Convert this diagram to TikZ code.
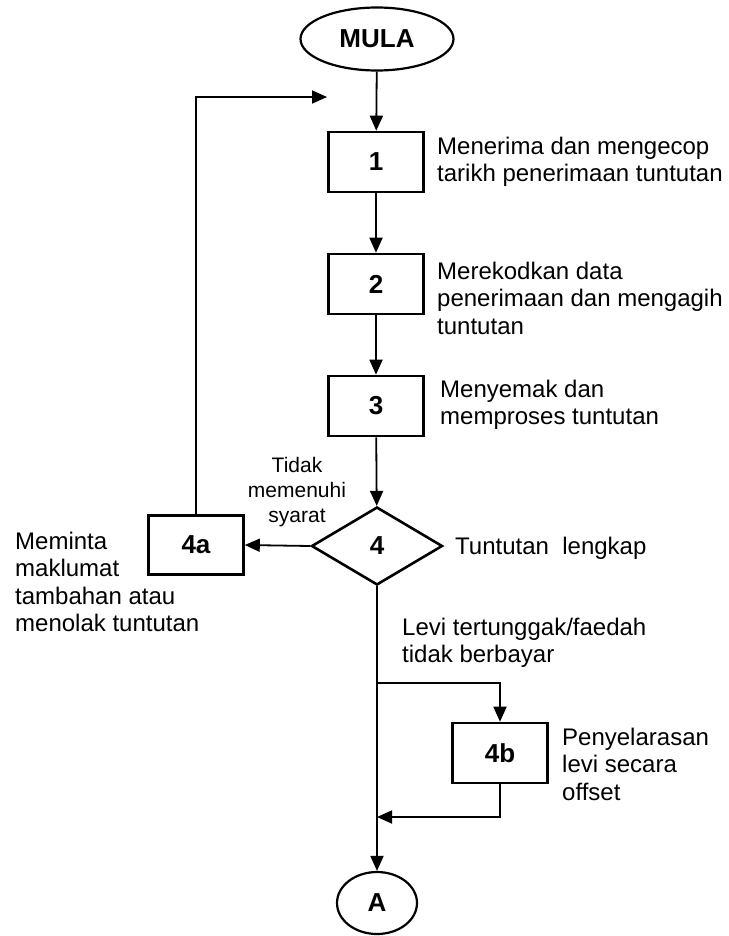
\documentclass[tikz,border=0pt]{standalone}
\usepackage{fontspec}
\setmainfont{Liberation Sans}
\usetikzlibrary{shapes.geometric,arrows.meta}
\tikzset{
  procbox/.style={draw, line width=2.6pt, minimum width=95pt, minimum height=60pt, inner sep=0pt, font=\fontsize{26}{29}\selectfont\bfseries},
  terminal/.style={draw, ellipse, line width=2.2pt, inner sep=0pt, font=\fontsize{26}{29}\selectfont\bfseries},
  decide/.style={draw, diamond, line width=2.6pt, minimum width=131pt, minimum height=78pt, inner sep=0pt, font=\fontsize{26}{29}\selectfont\bfseries},
  flow/.style={line width=1.8pt, -{Triangle[length=15pt,width=13pt]}},
  note/.style={anchor=west, align=left, inner sep=0pt, font=\fontsize{24}{27.5}\selectfont},
  smallnote/.style={align=center, inner sep=0pt, font=\fontsize{21}{25}\selectfont},
}
\begin{document}
\begin{tikzpicture}[x=1pt,y=-1pt]
\useasboundingbox (0,0) rectangle (728,936);
% shapes
\node[terminal, minimum width=153pt, minimum height=63pt] (mula) at (377,39) {MULA};
\node[procbox] (s1) at (376,162) {1};
\node[procbox] (s2) at (376,284) {2};
\node[procbox] (s3) at (376,406) {3};
\node[decide] (d4) at (377,546) {4};
\node[procbox, minimum height=59pt] (s4a) at (196,545) {4a};
\node[procbox] (s4b) at (500,753) {4b};
\node[terminal, minimum width=80pt, minimum height=62pt] (conA) at (377,903) {A};
% texts
\node[note] (t1) at (437,162) {Menerima dan mengecop\\tarikh penerimaan tuntutan};
\node[note] (t2) at (437,298) {Merekodkan data\\penerimaan dan mengagih\\tuntutan};
\node[note] (t3) at (440,405) {Menyemak dan\\memproses tuntutan};
\node[smallnote] (tno) at (297,492) {Tidak\\memenuhi\\syarat};
\node[note] (t4a) at (15,582) {Meminta\\maklumat\\tambahan atau\\menolak tuntutan};
\node[note] (tok) at (455,548) {Tuntutan\ \ lengkap};
\node[note] (tlevi) at (402,643) {Levi tertunggak/faedah\\tidak berbayar};
\node[note] (t4b) at (562,764) {Penyelarasan\\levi secara\\offset};
% connectors
\coordinate (back) at (327,97);
\coordinate (split) at (377,683);
\coordinate (join) at (377,817);
\draw[flow] (mula) -- (s1);
\draw[flow] (s1) -- (s2);
\draw[flow] (s2) -- (s3);
\draw[flow] (s3) -- (d4);
\draw[flow] (d4.west) -- (s4a.east);
\draw[flow] (s4a.north) |- (back);
\draw[flow] (d4.south) -- (conA.north);
\draw[flow] (split) -| (s4b.north);
\draw[flow] (s4b.south) |- (join);
\end{tikzpicture}
\end{document}
